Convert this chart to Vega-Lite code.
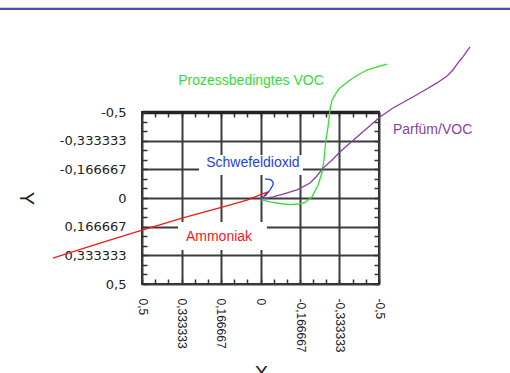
{
  "$schema": "https://vega.github.io/schema/vega-lite/v6.json",
  "autosize": {"type": "none"},
  "padding": {"left": 142, "top": 112, "right": 131, "bottom": 89},
  "width": 237,
  "height": 172,
  "background": "white",
  "config": {
    "font": "Liberation Sans",
    "locale": {"number": {"decimal": ",", "thousands": ".", "grouping": [3], "currency": ["", " €"], "minus": "-"}},
    "view": {"stroke": "#2a2a2a", "strokeWidth": 2}
  },
  "datasets": {
    "series": [
      {"s": "Ammoniak", "i": 0, "x": 0.876, "y": 0.349},
      {"s": "Ammoniak", "i": 1, "x": 0.677, "y": 0.262},
      {"s": "Ammoniak", "i": 2, "x": 0.496, "y": 0.186},
      {"s": "Ammoniak", "i": 3, "x": 0.327, "y": 0.116},
      {"s": "Ammoniak", "i": 4, "x": 0.158, "y": 0.052},
      {"s": "Ammoniak", "i": 5, "x": 0.057, "y": 0.012},
      {"s": "Ammoniak", "i": 6, "x": -0.011, "y": -0.026},
      {"s": "Ammoniak", "i": 7, "x": -0.032, "y": -0.035},
      {"s": "Ammoniak", "i": 8, "x": -0.015, "y": -0.012},
      {"s": "Schwefeldioxid", "i": 0, "x": 0.0, "y": 0.006},
      {"s": "Schwefeldioxid", "i": 1, "x": -0.023, "y": -0.017},
      {"s": "Schwefeldioxid", "i": 2, "x": -0.04, "y": -0.047},
      {"s": "Schwefeldioxid", "i": 3, "x": -0.053, "y": -0.076},
      {"s": "Schwefeldioxid", "i": 4, "x": -0.053, "y": -0.093},
      {"s": "Schwefeldioxid", "i": 5, "x": -0.044, "y": -0.105},
      {"s": "Schwefeldioxid", "i": 6, "x": -0.032, "y": -0.11},
      {"s": "Schwefeldioxid", "i": 7, "x": -0.019, "y": -0.11},
      {"s": "Prozessbedingtes VOC", "i": 0, "x": 0.0, "y": 0.01},
      {"s": "Prozessbedingtes VOC", "i": 1, "x": -0.04, "y": 0.023},
      {"s": "Prozessbedingtes VOC", "i": 2, "x": -0.082, "y": 0.032},
      {"s": "Prozessbedingtes VOC", "i": 3, "x": -0.124, "y": 0.038},
      {"s": "Prozessbedingtes VOC", "i": 4, "x": -0.158, "y": 0.035},
      {"s": "Prozessbedingtes VOC", "i": 5, "x": -0.188, "y": 0.026},
      {"s": "Prozessbedingtes VOC", "i": 6, "x": -0.217, "y": -0.006},
      {"s": "Prozessbedingtes VOC", "i": 7, "x": -0.243, "y": -0.076},
      {"s": "Prozessbedingtes VOC", "i": 8, "x": -0.259, "y": -0.145},
      {"s": "Prozessbedingtes VOC", "i": 9, "x": -0.268, "y": -0.221},
      {"s": "Prozessbedingtes VOC", "i": 10, "x": -0.272, "y": -0.279},
      {"s": "Prozessbedingtes VOC", "i": 11, "x": -0.276, "y": -0.337},
      {"s": "Prozessbedingtes VOC", "i": 12, "x": -0.285, "y": -0.413},
      {"s": "Prozessbedingtes VOC", "i": 13, "x": -0.293, "y": -0.512},
      {"s": "Prozessbedingtes VOC", "i": 14, "x": -0.302, "y": -0.57},
      {"s": "Prozessbedingtes VOC", "i": 15, "x": -0.319, "y": -0.61},
      {"s": "Prozessbedingtes VOC", "i": 16, "x": -0.335, "y": -0.64},
      {"s": "Prozessbedingtes VOC", "i": 17, "x": -0.378, "y": -0.686},
      {"s": "Prozessbedingtes VOC", "i": 18, "x": -0.411, "y": -0.715},
      {"s": "Prozessbedingtes VOC", "i": 19, "x": -0.449, "y": -0.744},
      {"s": "Prozessbedingtes VOC", "i": 20, "x": -0.492, "y": -0.762},
      {"s": "Prozessbedingtes VOC", "i": 21, "x": -0.534, "y": -0.779},
      {"s": "Parfüm/VOC", "i": 0, "x": 0.0, "y": 0.005},
      {"s": "Parfüm/VOC", "i": 1, "x": -0.053, "y": -0.006},
      {"s": "Parfüm/VOC", "i": 2, "x": -0.095, "y": -0.023},
      {"s": "Parfüm/VOC", "i": 3, "x": -0.154, "y": -0.047},
      {"s": "Parfüm/VOC", "i": 4, "x": -0.209, "y": -0.087},
      {"s": "Parfüm/VOC", "i": 5, "x": -0.238, "y": -0.128},
      {"s": "Parfüm/VOC", "i": 6, "x": -0.264, "y": -0.174},
      {"s": "Parfüm/VOC", "i": 7, "x": -0.302, "y": -0.221},
      {"s": "Parfüm/VOC", "i": 8, "x": -0.335, "y": -0.267},
      {"s": "Parfüm/VOC", "i": 9, "x": -0.373, "y": -0.314},
      {"s": "Parfüm/VOC", "i": 10, "x": -0.407, "y": -0.355},
      {"s": "Parfüm/VOC", "i": 11, "x": -0.441, "y": -0.395},
      {"s": "Parfüm/VOC", "i": 12, "x": -0.475, "y": -0.436},
      {"s": "Parfüm/VOC", "i": 13, "x": -0.504, "y": -0.471},
      {"s": "Parfüm/VOC", "i": 14, "x": -0.559, "y": -0.523},
      {"s": "Parfüm/VOC", "i": 15, "x": -0.643, "y": -0.587},
      {"s": "Parfüm/VOC", "i": 16, "x": -0.694, "y": -0.628},
      {"s": "Parfüm/VOC", "i": 17, "x": -0.745, "y": -0.669},
      {"s": "Parfüm/VOC", "i": 18, "x": -0.787, "y": -0.709},
      {"s": "Parfüm/VOC", "i": 19, "x": -0.812, "y": -0.744},
      {"s": "Parfüm/VOC", "i": 20, "x": -0.833, "y": -0.785},
      {"s": "Parfüm/VOC", "i": 21, "x": -0.854, "y": -0.82},
      {"s": "Parfüm/VOC", "i": 22, "x": -0.884, "y": -0.878}
    ],
    "labels": [
      {"s": "Prozessbedingtes VOC", "label": "Prozessbedingtes VOC", "x": 0.04, "y": -0.657},
      {"s": "Parfüm/VOC", "label": "Parfüm/VOC", "x": -0.726, "y": -0.372},
      {"s": "Schwefeldioxid", "label": "Schwefeldioxid", "x": 0.032, "y": -0.18},
      {"s": "Ammoniak", "label": "Ammoniak", "x": 0.175, "y": 0.25}
    ]
  },
  "resolve": {"axis": {"x": "independent", "y": "independent"}},
  "layer": [
    {
      "data": {"values": [{}]},
      "mark": {"type": "rule", "color": "#4256a8", "strokeWidth": 2.2, "clip": false},
      "encoding": {
        "x": {"datum": 1.2, "type": "quantitative", "axis": null, "scale": {"domain": [-0.5, 0.5], "reverse": true, "nice": false, "zero": false}},
        "x2": {"datum": -1.2},
        "y": {"datum": -1.099, "type": "quantitative", "axis": null, "scale": {"domain": [-0.5, 0.5], "reverse": true, "nice": false, "zero": false}}
      }
    },
    {
      "data": {"name": "series"},
      "mark": {"type": "line", "strokeWidth": 1.3, "clip": false},
      "encoding": {
        "x": {
          "field": "x", "type": "quantitative",
          "scale": {"domain": [-0.5, 0.5], "reverse": true, "nice": false, "zero": false},
          "axis": {
            "orient": "bottom", "title": "X",
            "values": [-0.5, -0.444444, -0.388889, -0.333333, -0.277778, -0.222222, -0.166667, -0.111111, -0.055556, 0, 0.055556, 0.111111, 0.166667, 0.222222, 0.277778, 0.333333, 0.388889, 0.444444, 0.5],
            "labelExpr": "abs(datum.value*6 - round(datum.value*6)) < 0.01 ? replace(replace(format(datum.value, '.6~f'), '.', ','), '\u2212', '-') : ''",
            "labelAngle": 90, "labelAlign": "left", "labelBaseline": "middle",
            "labelFont": "Liberation Sans", "labelFontSize": 12, "labelColor": "#222",
            "labelPadding": 19, "labelOverlap": false, "labelFlush": false, "labelBound": false,
            "ticks": true, "tickSize": -5, "tickColor": "#333", "tickWidth": 1.5,
            "domain": false,
            "grid": true, "gridColor": "#3c3c3c", "gridWidth": 2,
            "gridOpacity": {"condition": {"test": "abs(datum.value*6 - round(datum.value*6)) < 0.01", "value": 1}, "value": 0},
            "titleFont": "Liberation Sans", "titleFontSize": 20, "titleFontWeight": "normal", "titleColor": "#222",
            "titleX": 119, "titleY": 95, "titleAlign": "center", "titleBaseline": "alphabetic"
          }
        },
        "y": {
          "field": "y", "type": "quantitative",
          "scale": {"domain": [-0.5, 0.5], "reverse": true, "nice": false, "zero": false},
          "axis": {
            "orient": "left", "title": "Y",
            "values": [-0.5, -0.444444, -0.388889, -0.333333, -0.277778, -0.222222, -0.166667, -0.111111, -0.055556, 0, 0.055556, 0.111111, 0.166667, 0.222222, 0.277778, 0.333333, 0.388889, 0.444444, 0.5],
            "labelExpr": "abs(datum.value*6 - round(datum.value*6)) < 0.01 ? replace(replace(format(datum.value, '.6~f'), '.', ','), '\u2212', '-') : ''",
            "labelAngle": 0, "labelAlign": "right", "labelBaseline": "middle",
            "labelFont": "DejaVu Sans", "labelFontSize": 13, "labelColor": "#222",
            "labelPadding": 21, "labelOverlap": false, "labelFlush": false, "labelBound": false,
            "ticks": true, "tickSize": -5, "tickColor": "#333", "tickWidth": 1.5,
            "domain": false,
            "grid": true, "gridColor": "#3c3c3c", "gridWidth": 2,
            "gridOpacity": {"condition": {"test": "abs(datum.value*6 - round(datum.value*6)) < 0.01", "value": 1}, "value": 0},
            "titleFont": "Liberation Sans", "titleFontSize": 20, "titleFontWeight": "normal", "titleColor": "#222",
            "titleAngle": 90, "titleX": -117, "titleY": 86, "titleAlign": "center", "titleBaseline": "middle"
          }
        },
        "color": {"field": "s", "type": "nominal", "legend": null,
          "scale": {"domain": ["Ammoniak", "Schwefeldioxid", "Prozessbedingtes VOC", "Parfüm/VOC"], "range": ["#f01a1a", "#1f3fe0", "#33dd33", "#8b3f9e"]}},
        "order": {"field": "i", "type": "quantitative"}
      }
    },
    {
      "data": {"values": [{}]},
      "mark": {"type": "rect", "fill": "white", "clip": false},
      "encoding": {
        "x": {"datum": 0.2595, "type": "quantitative", "axis": null, "scale": {"domain": [-0.5, 0.5], "reverse": true, "nice": false, "zero": false}},
        "x2": {"datum": -0.179},
        "y": {"datum": -0.25, "type": "quantitative", "axis": null, "scale": {"domain": [-0.5, 0.5], "reverse": true, "nice": false, "zero": false}},
        "y2": {"datum": -0.134}
      }
    },
    {
      "data": {"values": [{}]},
      "mark": {"type": "rect", "fill": "white", "clip": false},
      "encoding": {
        "x": {"datum": 0.348, "type": "quantitative", "axis": null, "scale": {"domain": [-0.5, 0.5], "reverse": true, "nice": false, "zero": false}},
        "x2": {"datum": -0.027},
        "y": {"datum": 0.1395, "type": "quantitative", "axis": null, "scale": {"domain": [-0.5, 0.5], "reverse": true, "nice": false, "zero": false}},
        "y2": {"datum": 0.302}
      }
    },
    {
      "data": {"name": "labels"},
      "mark": {"type": "text", "align": "center", "baseline": "alphabetic", "fontSize": 14, "font": "Liberation Sans", "clip": false},
      "encoding": {
        "x": {
          "field": "x", "type": "quantitative",
          "scale": {"domain": [-0.5, 0.5], "reverse": true, "nice": false, "zero": false},
          "axis": {
            "orient": "top", "title": null, "labels": false, "grid": false,
            "values": [-0.5, -0.444444, -0.388889, -0.333333, -0.277778, -0.222222, -0.166667, -0.111111, -0.055556, 0, 0.055556, 0.111111, 0.166667, 0.222222, 0.277778, 0.333333, 0.388889, 0.444444, 0.5],
            "domain": true, "domainColor": "#222", "domainWidth": 3.5,
            "ticks": true, "tickSize": -5, "tickColor": "#333", "tickWidth": 1.5
          }
        },
        "y": {
          "field": "y", "type": "quantitative",
          "scale": {"domain": [-0.5, 0.5], "reverse": true, "nice": false, "zero": false},
          "axis": {
            "orient": "right", "title": null, "labels": false, "grid": false,
            "values": [-0.5, -0.444444, -0.388889, -0.333333, -0.277778, -0.222222, -0.166667, -0.111111, -0.055556, 0, 0.055556, 0.111111, 0.166667, 0.222222, 0.277778, 0.333333, 0.388889, 0.444444, 0.5],
            "domain": false,
            "ticks": true, "tickSize": -5, "tickColor": "#333", "tickWidth": 1.5
          }
        },
        "text": {"field": "label", "type": "nominal"},
        "color": {"field": "s", "type": "nominal", "legend": null,
          "scale": {"domain": ["Ammoniak", "Schwefeldioxid", "Prozessbedingtes VOC", "Parfüm/VOC"], "range": ["#f01a1a", "#1f3fe0", "#33dd33", "#8b3f9e"]}}
      }
    }
  ]
}
